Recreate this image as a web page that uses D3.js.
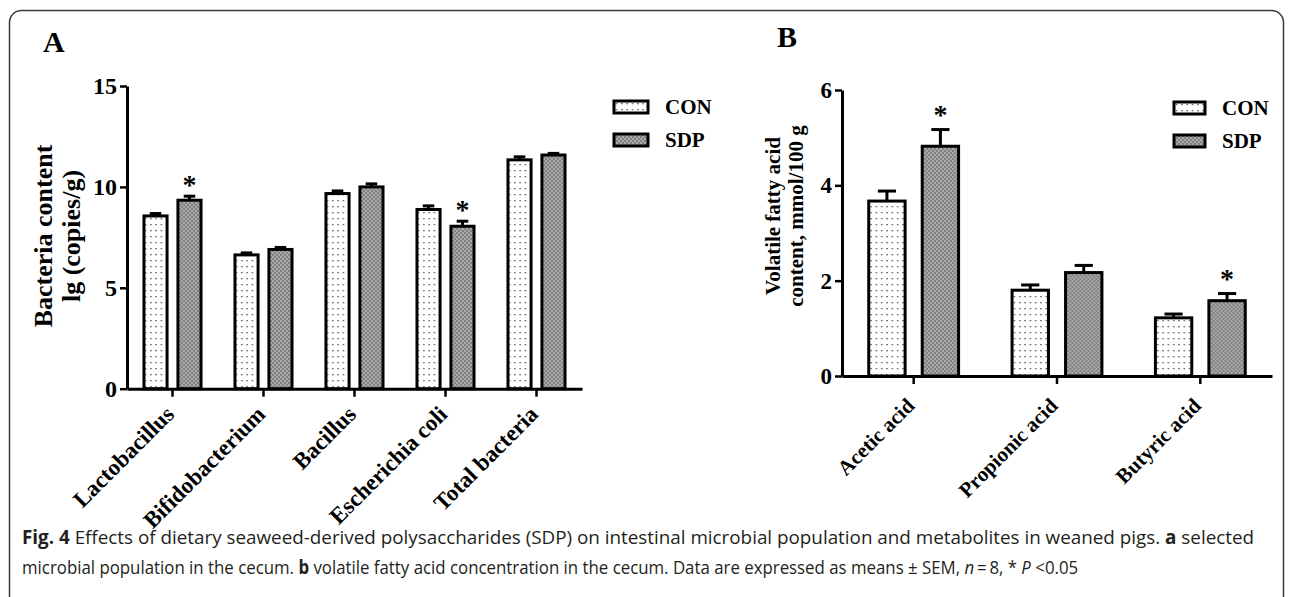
<!DOCTYPE html>
<html>
<head>
<meta charset="utf-8">
<script src="https://cdn.jsdelivr.net/npm/d3@7"></script>
<style>
  body { margin: 0; background: #fff; }
  svg { display: block; }
</style>
</head>
<body>
<div id="fig"></div>
<script>
const groups = ['CON', 'SDP'];

// panel A: bacteria, lg(copies/g)
const bacteriaNames = ['Lactobacillus', 'Bifidobacterium', 'Bacillus', 'Escherichia coli', 'Total bacteria'];
const bacteriaCon = [8.56, 6.63, 9.67, 8.88, 11.34];
const bacteriaConSem = [0.12, 0.10, 0.13, 0.18, 0.15];
const bacteriaSdp = [9.34, 6.90, 10.0, 8.05, 11.58];
const bacteriaSdpSem = [0.20, 0.10, 0.15, 0.25, 0.08];
const bacteriaStars = ['Lactobacillus', 'Escherichia coli'];
const bacteriaTicks = [0, 5, 10, 15];

// panel B: volatile fatty acids, mmol/100 g
const acidNames = ['Acetic acid', 'Propionic acid', 'Butyric acid'];
const acidCon = [3.67, 1.80, 1.22];
const acidConSem = [0.21, 0.11, 0.08];
const acidSdp = [4.82, 2.17, 1.58];
const acidSdpSem = [0.35, 0.15, 0.15];
const acidStars = ['Acetic acid', 'Butyric acid'];
const acidTicks = [0, 2, 4, 6];

const width = 1292;
const height = 597;
const serif = '"Liberation Serif", "Times New Roman", serif';

const svg = d3.select('#fig').append('svg')
  .attr('width', width)
  .attr('height', height);

// fill patterns
const defs = svg.append('defs');
const dots = defs.append('pattern')
  .attr('id', 'dots')
  .attr('patternUnits', 'userSpaceOnUse')
  .attr('width', 5.3).attr('height', 6);
dots.append('rect').attr('width', 5.3).attr('height', 6).attr('fill', '#fff');
dots.append('rect').attr('x', 2).attr('y', 2).attr('width', 1.3).attr('height', 1.3).attr('fill', '#444');

const checker = defs.append('pattern')
  .attr('id', 'checker')
  .attr('patternUnits', 'userSpaceOnUse')
  .attr('width', 4).attr('height', 4);
checker.append('rect').attr('width', 4).attr('height', 4).attr('fill', '#a9a9a9');
checker.append('rect').attr('width', 2).attr('height', 2).attr('fill', '#818181');
checker.append('rect').attr('x', 2).attr('y', 2).attr('width', 2).attr('height', 2).attr('fill', '#818181');

const fillFor = { CON: 'url(#dots)', SDP: 'url(#checker)' };

// outer frame
svg.append('rect')
  .attr('x', 9.5).attr('y', 10.5)
  .attr('width', 1274).attr('height', 600)
  .attr('rx', 12)
  .attr('fill', 'none')
  .attr('stroke', '#3a3a3a')
  .attr('stroke-width', 1.5);

function panel(cfg) {
  const g = svg.append('g');

  const rows = cfg.names.map((name, i) => ({
    name: name,
    values: [
      { group: 'CON', v: cfg.con[i], sem: cfg.conSem[i] },
      { group: 'SDP', v: cfg.sdp[i], sem: cfg.sdpSem[i] }
    ]
  }));

  const x = d3.scaleBand()
    .domain(cfg.names)
    .range(cfg.xRange);

  const xSub = d3.scaleBand()
    .domain(groups)
    .range([0, x.bandwidth()])
    .paddingInner(0.32)
    .paddingOuter(0.5);

  const y = d3.scaleLinear()
    .domain(cfg.yDomain)
    .range(cfg.yRange);

  const cats = g.selectAll('.cat')
    .data(rows)
    .join('g')
    .attr('class', 'cat')
    .attr('transform', d => `translate(${x(d.name)},0)`);

  const items = cats.selectAll('.item')
    .data(d => d.values.map(v => Object.assign({ name: d.name }, v)))
    .join('g')
    .attr('class', 'item');

  const bw = xSub.bandwidth();

  // error bars (upper only)
  items.append('line')
    .attr('x1', d => xSub(d.group) + bw / 2)
    .attr('x2', d => xSub(d.group) + bw / 2)
    .attr('y1', d => y(d.v))
    .attr('y2', d => y(d.v + d.sem))
    .attr('stroke', '#000')
    .attr('stroke-width', 3);
  items.append('line')
    .attr('x1', d => xSub(d.group) + bw / 4)
    .attr('x2', d => xSub(d.group) + bw * 3 / 4)
    .attr('y1', d => y(d.v + d.sem))
    .attr('y2', d => y(d.v + d.sem))
    .attr('stroke', '#000')
    .attr('stroke-width', 3);

  items.append('rect')
    .attr('x', d => xSub(d.group))
    .attr('y', d => y(d.v))
    .attr('width', bw)
    .attr('height', d => y(0) - y(d.v))
    .attr('fill', d => fillFor[d.group])
    .attr('stroke', '#000')
    .attr('stroke-width', 3);

  items.filter(d => d.group === 'SDP' && cfg.stars.includes(d.name))
    .append('text')
    .attr('x', d => xSub(d.group) + bw / 2)
    .attr('y', d => y(d.v + d.sem) - cfg.starGap)
    .attr('text-anchor', 'middle')
    .attr('font-family', serif)
    .attr('font-weight', 'bold')
    .attr('font-size', 28)
    .text('*');

  // y axis
  const yAxis = g.append('g')
    .attr('transform', `translate(${cfg.xRange[0]},0)`)
    .call(d3.axisLeft(y).tickValues(cfg.ticks).tickFormat(d3.format('d'))
      .tickSize(7).tickSizeOuter(0).tickPadding(3));
  yAxis.select('.domain').attr('stroke-width', 3);
  yAxis.selectAll('.tick line').attr('stroke-width', 2.5);
  yAxis.selectAll('.tick text')
    .attr('font-family', serif)
    .attr('font-weight', 'bold')
    .attr('font-size', cfg.tickFont)
    .attr('fill', '#000');

  // x axis
  const xAxis = g.append('g')
    .attr('transform', `translate(0,${y(0)})`)
    .call(d3.axisBottom(x).tickSize(8).tickSizeOuter(0).tickFormat(''));
  xAxis.select('.domain').attr('stroke-width', 3);
  xAxis.selectAll('.tick line').attr('stroke-width', 2.5);

  g.selectAll('.xlab')
    .data(cfg.names)
    .join('text')
    .attr('class', 'xlab')
    .attr('transform', d => `translate(${x(d) + x.bandwidth() / 2 + cfg.labDx},${y(0) + cfg.labDy}) rotate(-45)`)
    .attr('text-anchor', 'end')
    .attr('font-family', serif)
    .attr('font-weight', 'bold')
    .attr('font-size', cfg.labFont)
    .text(d => d);

  // y title
  cfg.yTitle.forEach((line, i) => {
    g.append('text')
      .attr('transform', `translate(${cfg.yTitleX[i]},${cfg.yTitleY}) rotate(-90)`)
      .attr('text-anchor', 'middle')
      .attr('font-family', serif)
      .attr('font-weight', 'bold')
      .attr('font-size', cfg.yTitleFont)
      .text(line);
  });

  // panel letter
  g.append('text')
    .attr('x', cfg.letterPos[0]).attr('y', cfg.letterPos[1])
    .attr('font-family', serif)
    .attr('font-weight', 'bold')
    .attr('font-size', 30)
    .text(cfg.letter);

  // legend
  const leg = g.selectAll('.leg')
    .data(groups)
    .join('g')
    .attr('class', 'leg')
    .attr('transform', (d, i) => `translate(${cfg.legendPos[0]},${cfg.legendPos[1] + i * 33})`);
  leg.append('rect')
    .attr('width', cfg.legendBox).attr('height', 12)
    .attr('fill', d => fillFor[d])
    .attr('stroke', '#000')
    .attr('stroke-width', 3);
  leg.append('text')
    .attr('x', cfg.legendBox + 17)
    .attr('y', 13)
    .attr('font-family', serif)
    .attr('font-weight', 'bold')
    .attr('font-size', 21)
    .text(d => d);
}

panel({
  names: bacteriaNames,
  con: bacteriaCon, conSem: bacteriaConSem,
  sdp: bacteriaSdp, sdpSem: bacteriaSdpSem,
  stars: bacteriaStars,
  ticks: bacteriaTicks,
  yDomain: [0, 15],
  yRange: [388.7, 86],
  xRange: [127, 582],
  tickFont: 24,
  labFont: 23,
  labDx: 3, labDy: 27,
  starGap: 2,
  yTitle: ['Bacteria content', 'lg (copies/g)'],
  yTitleX: [52, 80], yTitleY: 236, yTitleFont: 26,
  letter: 'A', letterPos: [43, 52],
  legendPos: [614, 101], legendBox: 34
});

panel({
  names: acidNames,
  con: acidCon, conSem: acidConSem,
  sdp: acidSdp, sdpSem: acidSdpSem,
  stars: acidStars,
  ticks: acidTicks,
  yDomain: [0, 6],
  yRange: [376, 90],
  xRange: [842, 1272],
  tickFont: 23,
  labFont: 21,
  labDx: 2, labDy: 31,
  starGap: 6,
  yTitle: ['Volatile fatty acid', 'content, mmol/100 g'],
  yTitleX: [780, 803], yTitleY: 216, yTitleFont: 21,
  letter: 'B', letterPos: [777, 47],
  legendPos: [1174, 102], legendBox: 31
});

// caption: condensed sans, squeezed horizontally to the reference width
const sans = '"Open Sans", "Noto Sans", sans-serif';
function caption(yPos, targetWidth, parts) {
  const t = svg.append('text')
    .attr('font-family', sans)
    .attr('font-size', 19)
    .attr('fill', '#231f20');
  parts.forEach(p => {
    const s = t.append('tspan').text(p[0]);
    if (p[1] === 'b') s.attr('font-weight', 'bold');
    if (p[1] === 'i') s.attr('font-style', 'italic');
  });
  const w = t.node().getComputedTextLength();
  t.attr('transform', `translate(22,${yPos}) scale(${targetWidth / w},1)`);
}

caption(544, 1233, [
  ['Fig. 4', 'b'],
  [' Effects of dietary seaweed-derived polysaccharides (SDP) on intestinal microbial population and metabolites in weaned pigs. '],
  ['a', 'b'],
  [' selected']
]);
caption(574, 1057, [
  ['microbial population in the cecum. '],
  ['b', 'b'],
  [' volatile fatty acid concentration in the cecum. Data are expressed as means \u00b1 SEM, '],
  ['n', 'i'],
  ['\u2009=\u20098, * '],
  ['P', 'i'],
  [' <0.05']
]);
</script>
</body>
</html>
